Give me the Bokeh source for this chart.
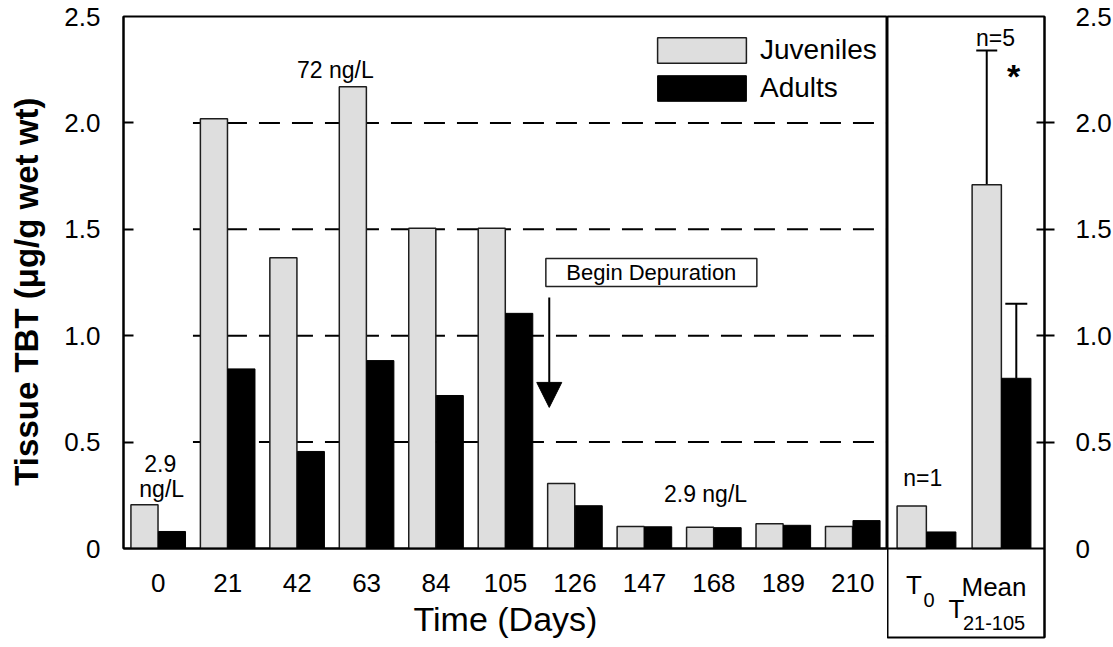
from bokeh.plotting import figure
from bokeh.models import (FactorRange, Range1d, FixedTicker, CustomJSTickFormatter, Legend,
                          LegendItem, Arrow, NormalHead, Span, Whisker, TeeHead, ColumnDataSource)
from bokeh.transform import dodge
from bokeh.layouts import row
from bokeh.embed import file_html
from bokeh.resources import INLINE
from bokeh.core.properties import value

# ---------------- data ----------------
days = ["0", "21", "42", "63", "84", "105", "126", "147", "168", "189", "210"]
juveniles = [0.206, 2.02, 1.366, 2.17, 1.505, 1.505, 0.305, 0.103, 0.100, 0.116, 0.103]
adults = [0.080, 0.844, 0.456, 0.883, 0.719, 1.105, 0.201, 0.102, 0.098, 0.109, 0.131]

summary_idx = [0, 1]                 # T0, Mean T21-105
summary_juv = [0.200, 1.71]
summary_adult = [0.078, 0.80]
mean_idx = [1]
mean_juv_upper = [2.34]
mean_adult_upper = [1.15]

y_ticks = [0, 0.5, 1.0, 1.5, 2.0, 2.5]
grid_levels = [0.5, 1.0, 1.5, 2.0]

# annotations (main panel, synthetic category coordinates)
main_notes = ["72 ng/L", "2.9", "ng/L", "2.9 ng/L"]
main_notes_x = [3.05, 0.53, 0.55, 8.38]
main_notes_y = [2.25, 0.40, 0.28, 0.256]

FONT = value("Liberation Sans")
JUV_FILL = "#dedede"
JUV_LINE = "#1e1e1e"
BW = 0.39
OFF = 0.198

# ---------------- main panel ----------------
p = figure(x_range=FactorRange(factors=days), y_range=Range1d(0, 2.5),
           frame_width=764, frame_height=532,
           min_border_left=123, min_border_right=0, min_border_top=16, min_border_bottom=10,
           output_backend="svg", toolbar_location=None)
p.xgrid.visible = False
p.ygrid.visible = False
p.outline_line_color = "black"
p.outline_line_width = 2
p.background_fill_color = "white"
p.border_fill_color = "white"

# dashed reference lines (start at the day-21 category)
p.segment(x0=[1.0] * len(grid_levels), x1=[float(len(days))] * len(grid_levels),
          y0=grid_levels, y1=grid_levels, line_color="black", line_width=2, line_dash="21 12")

src = ColumnDataSource(dict(day=days, juv=juveniles, adult=adults))
r_juv = p.vbar(x=dodge("day", -OFF, range=p.x_range), top="juv", width=BW, source=src,
               fill_color=JUV_FILL, line_color=JUV_LINE, line_width=1.5)
r_ad = p.vbar(x=dodge("day", OFF, range=p.x_range), top="adult", width=BW, source=src,
              fill_color="black", line_color="black", line_width=1)

# axes
p.xaxis.axis_label = "Time (Days)"
p.xaxis.axis_label_text_font = "Liberation Sans"
p.xaxis.axis_label_text_font_size = "34px"
p.xaxis.axis_label_text_font_style = "normal"
p.xaxis.axis_label_text_color = "black"
p.xaxis.axis_label_standoff = 5
p.xaxis.major_label_text_font = "Liberation Sans"
p.xaxis.major_label_text_font_size = "26px"
p.xaxis.major_label_text_color = "black"
p.xaxis.major_label_standoff = 25
p.xaxis.major_tick_line_color = None
p.xaxis.major_tick_in = 0
p.xaxis.major_tick_out = 0
p.xaxis.axis_line_width = 2
p.xaxis.axis_line_color = "black"

p.yaxis.ticker = FixedTicker(ticks=y_ticks, minor_ticks=grid_levels)
p.yaxis.formatter = CustomJSTickFormatter(code="return tick == 0 ? '0' : tick.toFixed(1);")
p.yaxis.axis_label = "Tissue TBT (\u03bcg/g wet wt)\u00a0\u00a0"
p.yaxis.axis_label_text_font = "Liberation Sans"
p.yaxis.axis_label_text_font_size = "33px"
p.yaxis.axis_label_text_font_style = "bold"
p.yaxis.axis_label_text_color = "black"
p.yaxis.axis_label_standoff = 16
p.yaxis.major_label_text_font = "Liberation Sans"
p.yaxis.major_label_text_font_size = "26px"
p.yaxis.major_label_text_color = "black"
p.yaxis.major_label_standoff = 23
p.yaxis.major_tick_line_color = None
p.yaxis.major_tick_in = 0
p.yaxis.major_tick_out = 0
p.yaxis.minor_tick_line_color = "black"
p.yaxis.minor_tick_line_width = 2
p.yaxis.minor_tick_in = 10
p.yaxis.minor_tick_out = 0
p.yaxis.axis_line_width = 2
p.yaxis.axis_line_color = "black"

# legend (Bokeh insets area swatches by 10%, so glyph box is a bit larger)
legend = Legend(items=[LegendItem(label="Juveniles", renderers=[r_juv]),
                       LegendItem(label="Adults", renderers=[r_ad])],
                location=(523, 444), orientation="vertical",
                glyph_width=111, glyph_height=32, label_standoff=3, spacing=6,
                label_height=32,
                padding=0, margin=0, border_line_color=None, background_fill_alpha=0,
                label_text_font="Liberation Sans", label_text_font_size="28px",
                label_text_color="black")
p.add_layout(legend)

# text notes
p.text(x=main_notes_x, y=main_notes_y, text=main_notes, text_font=FONT,
       text_font_size="23px", text_align="center", text_baseline="middle", text_color="black")

# Begin Depuration box + arrow
p.rect(x=[7.6], y=[1.297], width=[211], height=[28], width_units="screen", height_units="screen",
       fill_color="white", line_color="#222222", line_width=1.5)
p.text(x=[7.6], y=[1.297], text=["Begin Depuration"], text_font=FONT, text_font_size="22px",
       text_align="center", text_baseline="middle", text_color="black")
p.add_layout(Arrow(x_start=6.13, y_start=1.18, x_end=6.13, y_end=0.663, line_width=2,
                   line_color="black",
                   end=NormalHead(size=25, fill_color="black", line_color="black", line_width=1)))

# ---------------- summary panel ----------------
q = figure(x_range=Range1d(-0.52, 1.573), y_range=Range1d(-0.418, 2.5),
           frame_width=157, frame_height=621,
           x_axis_location=None, y_axis_location="right",
           min_border_left=0, min_border_right=5, min_border_top=16, min_border_bottom=6,
           output_backend="svg", toolbar_location=None)
q.xgrid.visible = False
q.ygrid.visible = False
q.outline_line_color = "black"
q.outline_line_width = 2
q.background_fill_color = "white"
q.border_fill_color = "white"

q.add_layout(Span(location=0, dimension="width", line_color="black", line_width=2))

ssrc = ColumnDataSource(dict(idx=summary_idx, juv=summary_juv, adult=summary_adult))
q.vbar(x=dodge("idx", -0.197), top="juv", width=BW, source=ssrc,
       fill_color=JUV_FILL, line_color=JUV_LINE, line_width=1.5)
q.vbar(x=dodge("idx", 0.197), top="adult", width=BW, source=ssrc,
       fill_color="black", line_color="black", line_width=1)

wsrc = ColumnDataSource(dict(idx=mean_idx, juv=[summary_juv[1]], adult=[summary_adult[1]],
                             ju=mean_juv_upper, au=mean_adult_upper))
q.add_layout(Whisker(base=dodge("idx", -0.197), lower="juv", upper="ju", source=wsrc,
                     line_width=2, line_color="black", lower_head=None,
                     upper_head=TeeHead(size=21, line_width=2, line_color="black")))
q.add_layout(Whisker(base=dodge("idx", 0.197), lower="adult", upper="au", source=wsrc,
                     line_width=2, line_color="black", lower_head=None,
                     upper_head=TeeHead(size=22, line_width=2, line_color="black")))

q.yaxis.ticker = FixedTicker(ticks=y_ticks, minor_ticks=grid_levels)
q.yaxis.formatter = CustomJSTickFormatter(code="return tick == 0 ? '0' : tick.toFixed(1);")
q.yaxis.major_label_text_font = "Liberation Sans"
q.yaxis.major_label_text_font_size = "26px"
q.yaxis.major_label_text_color = "black"
q.yaxis.major_label_standoff = 21
q.yaxis.major_tick_line_color = None
q.yaxis.major_tick_in = 0
q.yaxis.major_tick_out = 0
q.yaxis.minor_tick_line_color = "black"
q.yaxis.minor_tick_line_width = 2
q.yaxis.minor_tick_in = 8
q.yaxis.minor_tick_out = 10
q.yaxis.axis_line_width = 2
q.yaxis.axis_line_color = "black"

# notes in summary panel
q.text(x=[-0.05, 0.92], y=[0.33, 2.40], text=["n=1", "n=5"], text_font=FONT,
       text_font_size="23px", text_align="center", text_baseline="middle", text_color="black")
q.text(x=[1.16], y=[2.22], text=["*"], text_font=FONT, text_font_size="34px",
       text_font_style="bold", text_align="center", text_baseline="middle", text_color="black")

# category labels below the summary bars
q.text(x=[-0.167, 0.90, 0.40], y=[-0.169, -0.179, -0.282], text=["T", "Mean", "T"],
       text_font=FONT, text_font_size="26px", text_align="center", text_baseline="middle",
       text_color="black")
q.text(x=[0.033, 0.90], y=[-0.244, -0.348], text=["0", "21-105"],
       text_font=FONT, text_font_size="20px", text_align="center", text_baseline="middle",
       text_color="black")

layout = row(p, q)
open("out.html", "w").write(file_html(layout, INLINE))
